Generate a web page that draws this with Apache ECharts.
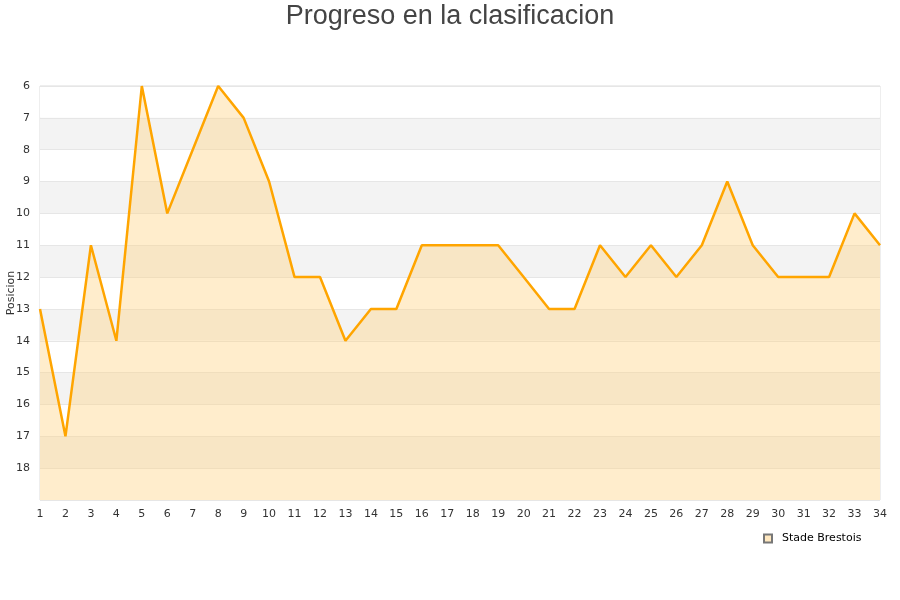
<!DOCTYPE html>
<html><head><meta charset="utf-8">
<script src="https://cdn.jsdelivr.net/npm/echarts@6/dist/echarts.min.js"></script>
<style>html,body{margin:0;padding:0;background:#fff}#c{width:900px;height:600px}</style>
</head><body><div id="c"></div>
<script>
const jornadas = ['1','2','3','4','5','6','7','8','9','10','11','12','13','14','15','16','17','18','19','20','21','22','23','24','25','26','27','28','29','30','31','32','33','34'];
const posiciones = [13,17,11,14,6,10,8,6,7,9,12,12,14,13,13,11,11,11,11,12,13,13,11,12,11,12,11,9,11,12,12,12,10,11];
const seriesName = 'Stade Brestois';
const titleText = 'Progreso en la clasificacion';
const yName = 'Posicion';

const chart = echarts.init(document.getElementById('c'), null, {renderer:'canvas'});
chart.setOption({
  animation:false,
  backgroundColor:'#fff',
  title:{text:titleText,left:'center',top:-2,textStyle:{fontFamily:'Liberation Sans, Arial',fontSize:27,fontWeight:'normal',color:'#444'}},
  legend:{data:[{name:seriesName,icon:'rect'}],left:758,top:528,itemWidth:8,itemHeight:8,itemGap:6,
    backgroundColor:'#fff',
    textStyle:{fontFamily:'DejaVu Sans',fontSize:11,color:'#000',padding:[0,0,0,5]}},
  grid:{left:40,right:20,top:86,bottom:100,show:true,borderColor:'#ddd',borderWidth:1,backgroundColor:'transparent',outerBoundsMode:'none',containLabel:false},
  xAxis:{type:'category',data:jornadas,boundaryGap:false,
    axisLine:{show:false},axisTick:{show:false},
    axisLabel:{fontFamily:'DejaVu Sans',fontSize:11,color:'#333',margin:9,interval:0},
    splitLine:{show:false}},
  yAxis:{type:'value',inverse:true,min:6,max:19,interval:1,
    name:yName,nameLocation:'middle',nameGap:23,nameMoveOverlap:false,nameTextStyle:{fontFamily:'DejaVu Sans',fontSize:11,color:'#333'},
    axisLine:{show:false},axisTick:{show:false},
    axisLabel:{fontFamily:'DejaVu Sans',fontSize:11,color:'#333',margin:10,formatter:v=>v>=19?'':String(v)},
    splitLine:{show:true,lineStyle:{color:'#e6e6e6',width:1}},
    splitArea:{show:true,areaStyle:{color:['#ffffff','#f3f3f3']}}},
  series:[{name:seriesName,type:'line',data:posiciones,symbol:'none',
    lineStyle:{color:'#ffa500',width:2.5},itemStyle:{color:'#ffe8c0',borderColor:'#777',borderWidth:1},
    areaStyle:{color:'#ffd27f',opacity:0.4,origin:'end'}}]
});
</script></body></html>
